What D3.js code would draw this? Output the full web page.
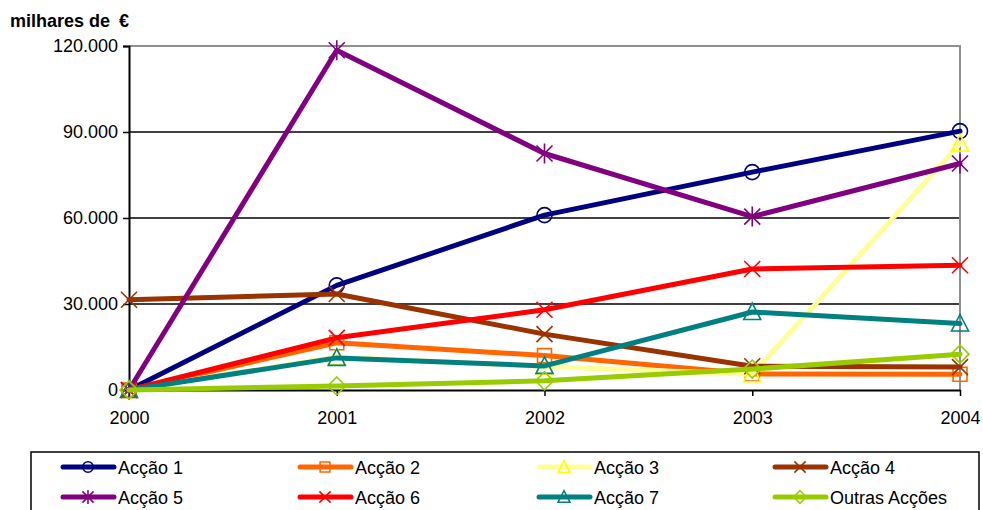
<!DOCTYPE html>
<html>
<head>
<meta charset="utf-8">
<script src="https://cdn.jsdelivr.net/npm/d3@7"></script>
<style>
  html, body { margin: 0; padding: 0; background: #fff; }
  svg { display: block; font-family: "Liberation Sans", Arial, sans-serif; }
</style>
</head>
<body>
<svg id="chart" width="983" height="510"></svg>
<script>
// Years on the x axis
const years = ["2000", "2001", "2002", "2003", "2004"];

// Values per action, in thousands of euros
const accao1 = [0, 36500, 61000, 76000, 90300];
const accao2 = [0, 16500, 12000, 5600, 5500];
const accao3 = [0, 11500, 8200, 5500, 86000];
const accao4 = [31500, 33500, 19500, 8300, 8000];
const accao5 = [0, 118500, 82500, 60500, 79000];
const accao6 = [0, 18200, 28000, 42200, 43500];
const accao7 = [0, 11200, 8400, 27200, 23200];
const outras = [0, 1400, 3200, 7300, 12500];

const seriesNames = ["Acção 1", "Acção 2", "Acção 3", "Acção 4", "Acção 5", "Acção 6", "Acção 7", "Outras Acções"];
const seriesValues = [accao1, accao2, accao3, accao4, accao5, accao6, accao7, outras];
const yTicks = [0, 30000, 60000, 90000, 120000];

// Line colour, marker colour and marker shape per series
const styles = [
  { line: "#000080", mark: "#000080", shape: "circle" },
  { line: "#FF6600", mark: "#FF6600", shape: "square" },
  { line: "#FFFF99", mark: "#FFFF00", shape: "triangle" },
  { line: "#993300", mark: "#993300", shape: "x" },
  { line: "#800080", mark: "#800080", shape: "star" },
  { line: "#FF0000", mark: "#FF0000", shape: "x" },
  { line: "#008080", mark: "#008080", shape: "triangle" },
  { line: "#99CC00", mark: "#99CC00", shape: "diamond" }
];

const svg = d3.select("#chart");
const plot = { left: 129, right: 960, top: 46, bottom: 390 };

const x = d3.scalePoint().domain(years).range([plot.left, plot.right]);
const y = d3.scaleLinear().domain([0, 120000]).range([plot.bottom, plot.top]);

const fmt = v => d3.format(",")(v).replace(/,/g, ".");

// Horizontal gridlines
svg.append("g")
  .selectAll("line")
  .data(yTicks.filter(t => t > 0 && t < 120000))
  .join("line")
  .attr("x1", plot.left).attr("x2", plot.right)
  .attr("y1", d => y(d)).attr("y2", d => y(d))
  .attr("stroke", "#000").attr("stroke-width", 1.3);

// Plot-area frame on top and right
svg.append("path")
  .attr("d", `M${plot.left},${y(120000)}H${plot.right}V${plot.bottom}`)
  .attr("fill", "none").attr("stroke", "#909090").attr("stroke-width", 2);

// Y axis
const yAxis = svg.append("g")
  .attr("transform", `translate(${plot.left},0)`)
  .call(d3.axisLeft(y).tickValues(yTicks).tickFormat(fmt).tickSize(6).tickPadding(5));
yAxis.select(".domain").attr("stroke", "#000").attr("stroke-width", 2);
yAxis.selectAll(".tick line").attr("stroke", "#000").attr("stroke-width", 1.5);
yAxis.selectAll("text").attr("font-size", 18).attr("fill", "#000")
  .attr("font-family", "Liberation Sans, Arial, sans-serif");

// X axis
const xAxis = svg.append("g")
  .attr("transform", `translate(0,${plot.bottom})`)
  .call(d3.axisBottom(x).tickSize(6).tickPadding(15).tickSizeOuter(0));
xAxis.select(".domain").attr("stroke", "#000").attr("stroke-width", 2);
xAxis.selectAll(".tick line").attr("stroke", "#000").attr("stroke-width", 1.5);
xAxis.selectAll("text").attr("font-size", 18).attr("fill", "#000")
  .attr("font-family", "Liberation Sans, Arial, sans-serif");

// Unit label
const unit = svg.append("text")
  .attr("x", 10).attr("y", 27)
  .attr("font-size", 18).attr("font-weight", "bold").attr("fill", "#000");
unit.append("tspan").text("milhares de");
unit.append("tspan").attr("x", 119).text("€");

// Marker path generator, centred on 0,0
function markerPath(shape) {
  switch (shape) {
    case "circle": return d3.arc()({ innerRadius: 0, outerRadius: 7.5, startAngle: 0, endAngle: 2 * Math.PI });
    case "square": return "M-7,-7H7V7H-7Z";
    case "triangle": return "M0,-9L8.5,7.5H-8.5Z";
    case "diamond": return "M0,-9L9,0L0,9L-9,0Z";
    case "x": return "M-8,-8L8,8M-8,8L8,-8";
    case "star": return "M-8,-8L8,8M-8,8L8,-8M0,-10V10";
  }
}

const line = d3.line().x((d, i) => x(years[i])).y(d => y(d));

const seriesG = svg.append("g");
seriesValues.forEach((vals, si) => {
  const st = styles[si];
  const g = seriesG.append("g");
  g.append("path")
    .attr("d", line(vals))
    .attr("fill", "none")
    .attr("stroke", st.line)
    .attr("stroke-width", 5)
    .attr("stroke-linejoin", "round")
    .attr("stroke-linecap", "round");
  g.selectAll("path.mk")
    .data(vals)
    .join("path")
    .attr("class", "mk")
    .attr("transform", (d, i) => `translate(${x(years[i])},${y(d)})`)
    .attr("d", markerPath(st.shape))
    .attr("fill", "none")
    .attr("stroke", st.mark)
    .attr("stroke-width", 1.6);
});

// Legend
const legend = svg.append("g");
legend.append("rect")
  .attr("x", 31).attr("y", 452).attr("width", 948).attr("height", 70)
  .attr("fill", "#fff").attr("stroke", "#000").attr("stroke-width", 1.5);

const colX = [60, 297, 536, 772];
const rowY = [467, 497];
seriesNames.forEach((name, i) => {
  const st = styles[i];
  const cx = colX[i % 4], cy = rowY[Math.floor(i / 4)];
  const item = legend.append("g");
  item.append("line")
    .attr("x1", cx + 3).attr("x2", cx + 54)
    .attr("y1", cy).attr("y2", cy)
    .attr("stroke", st.line).attr("stroke-width", 5).attr("stroke-linecap", "round");
  item.append("path")
    .attr("transform", `translate(${cx + 28},${cy}) scale(0.7)`)
    .attr("d", markerPath(st.shape))
    .attr("fill", "none").attr("stroke", st.mark).attr("stroke-width", 2.2);
  item.append("text")
    .attr("x", cx + 58).attr("y", cy + 6.5)
    .attr("font-size", 18).attr("fill", "#000")
    .text(name);
});
</script>
</body>
</html>
